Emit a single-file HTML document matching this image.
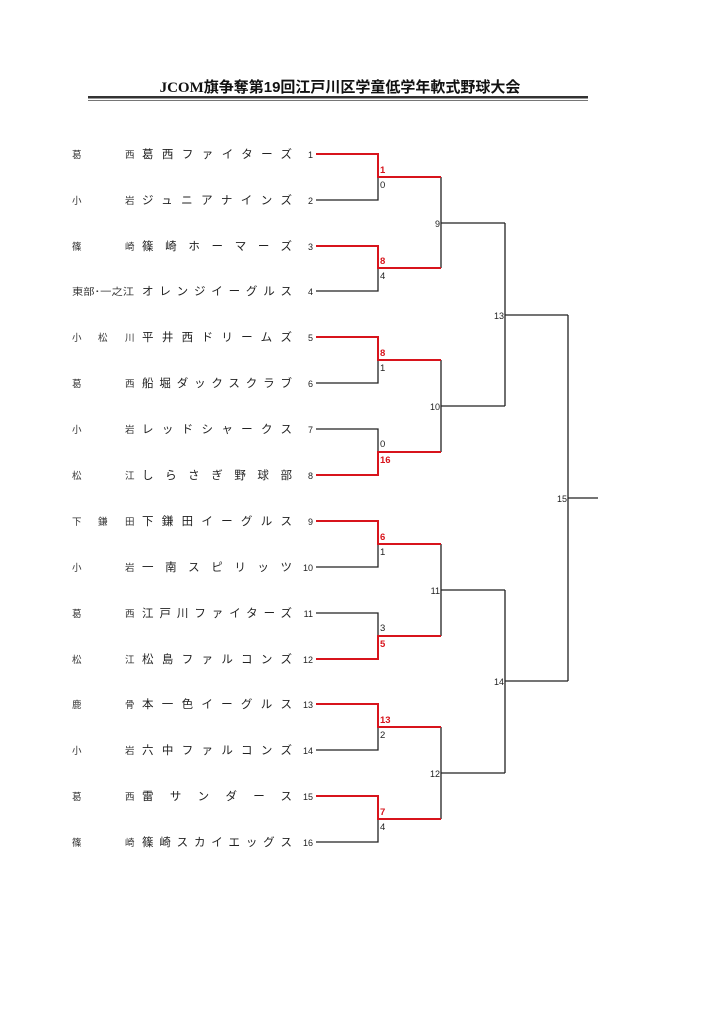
<!DOCTYPE html>
<html><head><meta charset="utf-8"><style>
html,body{margin:0;padding:0;background:#fff}
svg{display:block}
text{font-family:"Liberation Sans","Noto Sans CJK JP",sans-serif}
.r{font-size:9.5px;fill:#333}
.t{font-size:11.5px;fill:#222}
.n{font-size:9px;fill:#222}
.s{font-size:9.5px;fill:#222}
.w{font-size:9.5px;fill:#d8141c;font-weight:bold}
</style></head><body>
<svg width="724" height="1024" viewBox="0 0 724 1024" xmlns="http://www.w3.org/2000/svg">
<text x="340" y="92" text-anchor="middle" style="font-size:15px;fill:#111;font-weight:bold"><tspan style="font-family:'Liberation Serif',serif">JCOM</tspan>旗争奪第19回江戸川区学童低学年軟式野球大会</text>
<rect x="88" y="96" width="500" height="2.5" fill="#333"/>
<rect x="88" y="100" width="500" height="0.8" fill="#555"/>

<g class="r">
<text x="72" y="158">葛</text><text x="125" y="158">西</text>
<text x="72" y="204">小</text><text x="125" y="204">岩</text>
<text x="72" y="250">篠</text><text x="125" y="250">崎</text>
<text x="72" y="295" textLength="62" lengthAdjust="spacingAndGlyphs">東部･一之江</text>
<text x="72" y="341">小</text><text x="98" y="341">松</text><text x="125" y="341">川</text>
<text x="72" y="387">葛</text><text x="125" y="387">西</text>
<text x="72" y="433">小</text><text x="125" y="433">岩</text>
<text x="72" y="479">松</text><text x="125" y="479">江</text>
<text x="72" y="525">下</text><text x="98" y="525">鎌</text><text x="125" y="525">田</text>
<text x="72" y="571">小</text><text x="125" y="571">岩</text>
<text x="72" y="617">葛</text><text x="125" y="617">西</text>
<text x="72" y="663">松</text><text x="125" y="663">江</text>
<text x="72" y="708">鹿</text><text x="125" y="708">骨</text>
<text x="72" y="754">小</text><text x="125" y="754">岩</text>
<text x="72" y="800">葛</text><text x="125" y="800">西</text>
<text x="72" y="846">篠</text><text x="125" y="846">崎</text>
</g>

<g class="t">
<text x="142" y="158" textLength="150">葛西ファイターズ</text>
<text x="142" y="204" textLength="150">ジュニアナインズ</text>
<text x="142" y="250" textLength="150">篠崎ホーマーズ</text>
<text x="142" y="295" textLength="150">オレンジイーグルス</text>
<text x="142" y="341" textLength="150">平井西ドリームズ</text>
<text x="142" y="387" textLength="150">船堀ダックスクラブ</text>
<text x="142" y="433" textLength="150">レッドシャークス</text>
<text x="142" y="479" textLength="150">しらさぎ野球部</text>
<text x="142" y="525" textLength="150">下鎌田イーグルス</text>
<text x="142" y="571" textLength="150">一南スピリッツ</text>
<text x="142" y="617" textLength="150">江戸川ファイターズ</text>
<text x="142" y="663" textLength="150">松島ファルコンズ</text>
<text x="142" y="708" textLength="150">本一色イーグルス</text>
<text x="142" y="754" textLength="150">六中ファルコンズ</text>
<text x="142" y="800" textLength="150">雷サンダース</text>
<text x="142" y="846" textLength="150">篠崎スカイエッグス</text>
</g>

<g class="n" text-anchor="end">
<text x="313" y="158">1</text><text x="313" y="204">2</text><text x="313" y="250">3</text><text x="313" y="295">4</text>
<text x="313" y="341">5</text><text x="313" y="387">6</text><text x="313" y="433">7</text><text x="313" y="479">8</text>
<text x="313" y="525">9</text><text x="313" y="571">10</text><text x="313" y="617">11</text><text x="313" y="663">12</text>
<text x="313" y="708">13</text><text x="313" y="754">14</text><text x="313" y="800">15</text><text x="313" y="846">16</text>
<text x="440" y="227">9</text><text x="440" y="410">10</text><text x="440" y="594">11</text><text x="440" y="777">12</text>
<text x="504" y="319">13</text><text x="504" y="685">14</text><text x="567" y="502">15</text>
</g>

<g stroke="#222" stroke-width="1.3" fill="none">
<path d="M316 200H378V177"/>
<path d="M316 291H378V268"/>
<path d="M316 383H378V360"/>
<path d="M316 429H378V452"/>
<path d="M316 567H378V544"/>
<path d="M316 613H378V636"/>
<path d="M316 750H378V727"/>
<path d="M316 842H378V819"/>
<path d="M441 177V268M441 223H505"/>
<path d="M441 360V452M441 406H505"/>
<path d="M441 544V636M441 590H505"/>
<path d="M441 727V819M441 773H505"/>
<path d="M505 223V406M505 315H568"/>
<path d="M505 590V773M505 681H568"/>
<path d="M568 315V681M568 498H598"/>
</g>
<g stroke="#d8141c" stroke-width="2" fill="none">
<path d="M316 154H378V177H441"/>
<path d="M316 246H378V268H441"/>
<path d="M316 337H378V360H441"/>
<path d="M316 475H378V452H441"/>
<path d="M316 521H378V544H441"/>
<path d="M316 659H378V636H441"/>
<path d="M316 704H378V727H441"/>
<path d="M316 796H378V819H441"/>
</g>

<g>
<text class="w" x="380" y="173">1</text><text class="s" x="380" y="188">0</text>
<text class="w" x="380" y="264">8</text><text class="s" x="380" y="279">4</text>
<text class="w" x="380" y="356">8</text><text class="s" x="380" y="371">1</text>
<text class="s" x="380" y="447">0</text><text class="w" x="380" y="463">16</text>
<text class="w" x="380" y="540">6</text><text class="s" x="380" y="555">1</text>
<text class="s" x="380" y="631">3</text><text class="w" x="380" y="647">5</text>
<text class="w" x="380" y="723">13</text><text class="s" x="380" y="738">2</text>
<text class="w" x="380" y="815">7</text><text class="s" x="380" y="830">4</text>
</g>
</svg>
</body></html>
